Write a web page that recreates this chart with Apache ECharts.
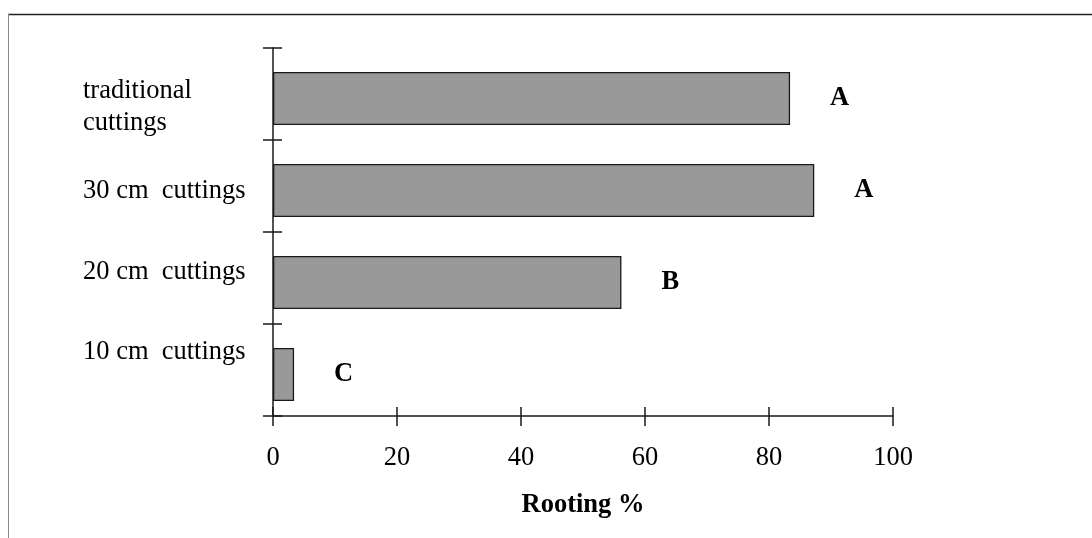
<!DOCTYPE html>
<html>
<head>
<meta charset="utf-8">
<script src="https://cdn.jsdelivr.net/npm/echarts@6/dist/echarts.min.js"></script>
<style>
html,body{margin:0;padding:0;background:#fff;}
#chart{width:1092px;height:538px;}
</style>
</head>
<body>
<div id="chart"></div>
<script>
// ---- data ----
const categories = ['traditional\ncuttings', '30 cm  cuttings', '20 cm  cuttings', '10 cm  cuttings'];
const rooting = [83.4, 87.3, 56.2, 3.4];
const letters = ['A', 'A', 'B', 'C'];
const xTicks = [0, 20, 40, 60, 80, 100];
const axisName = 'Rooting %';
// per-label vertical nudge (px, positive = down), styling only
const labelShift = [13, 5, -6, -18];

const FONT = '"Liberation Serif", "Times New Roman", serif';
const FS = 26.5;
const INK = '#1a1a1a';
const LH = 32;

const chart = echarts.init(document.getElementById('chart'), null, {renderer: 'canvas'});

const gridMain = {left: 273, right: 199, top: 48, bottom: 122, containLabel: false, outerBoundsMode: 'none'};
const gridBars = {left: 273, right: 199, top: 52.5, bottom: 117.5, containLabel: false, outerBoundsMode: 'none'};

// rich styles carrying the vertical nudge of each category label
const baseRich = {fontFamily: FONT, fontSize: FS, color: '#000', align: 'left'};
const rich = {};
labelShift.forEach((s, i) => {
  rich['s' + i] = Object.assign({}, baseRich, {
    lineHeight: LH,
    padding: s >= 0 ? [2 * s, 0, 0, 0] : [0, 0, -2 * s, 0]
  });
  rich['f' + i] = Object.assign({}, baseRich, {lineHeight: LH + 2 * s});
  rich['l' + i] = Object.assign({}, baseRich, {lineHeight: LH - 2 * s});
});

function catFormatter(value, index) {
  const lines = String(value).split('\n');
  if (lines.length === 1) return '{s' + index + '|' + lines[0] + '}';
  return '{f' + index + '|' + lines[0] + '}\n{l' + index + '|' + lines[1] + '}';
}

const tickStyle = {color: INK, width: 1.5};

const option = {
  backgroundColor: '#fff',
  animation: false,
  grid: [gridMain, gridBars],
  graphic: [
    {type: 'line', shape: {x1: 8, y1: 14.5, x2: 1092, y2: 14.5}, style: {stroke: '#222', lineWidth: 1.5}},
    {type: 'line', shape: {x1: 8.5, y1: 14, x2: 8.5, y2: 538}, style: {stroke: '#888', lineWidth: 1}}
  ],
  xAxis: [
    {
      gridIndex: 0, type: 'value', position: 'bottom',
      min: xTicks[0], max: xTicks[xTicks.length - 1], interval: xTicks[1] - xTicks[0],
      splitLine: {show: false},
      axisLine: {show: true, lineStyle: {color: INK, width: 1.5}},
      axisTick: {show: true, length: 10, lineStyle: tickStyle},
      axisLabel: {margin: 29, color: '#000', fontFamily: FONT, fontSize: FS},
      name: axisName, nameLocation: 'middle', nameGap: 76,
      nameTextStyle: {color: '#000', fontFamily: FONT, fontSize: FS, fontWeight: 'bold'}
    },
    {
      gridIndex: 0, type: 'value', position: 'bottom', offset: 0,
      min: xTicks[0], max: xTicks[xTicks.length - 1], interval: xTicks[1] - xTicks[0],
      splitLine: {show: false},
      axisLine: {show: true, onZero: false, lineStyle: {color: INK, width: 1.5, opacity: 0}},
      axisTick: {show: true, inside: true, length: 9, lineStyle: tickStyle},
      axisLabel: {show: false}
    },
    {
      gridIndex: 1, type: 'value', min: xTicks[0], max: xTicks[xTicks.length - 1],
      show: false
    }
  ],
  yAxis: [
    {
      gridIndex: 0, type: 'category', position: 'left', inverse: true, data: categories,
      axisLine: {show: true, lineStyle: {color: INK, width: 1.5}},
      axisTick: {show: true, length: 10, lineStyle: tickStyle},
      axisLabel: {
        align: 'left', margin: 190, color: '#000', fontFamily: FONT, fontSize: FS, lineHeight: LH,
        formatter: catFormatter, rich: rich
      }
    },
    {
      gridIndex: 0, type: 'category', position: 'left', offset: 0, inverse: true, data: categories,
      axisLine: {show: true, onZero: false, lineStyle: {color: INK, width: 1.5, opacity: 0}},
      axisTick: {show: true, inside: true, length: 9, lineStyle: tickStyle},
      axisLabel: {show: false}
    },
    {
      gridIndex: 1, type: 'category', inverse: true, data: categories, show: false
    }
  ],
  series: [{
    type: 'bar',
    xAxisIndex: 2, yAxisIndex: 2,
    barWidth: 53,
    data: rooting,
    itemStyle: {color: '#999999', borderColor: '#1a1a1a', borderWidth: 1.3},
    label: {
      show: true, position: 'right', distance: 40,
      formatter: p => letters[p.dataIndex],
      color: '#000', fontFamily: FONT, fontSize: FS, fontWeight: 'bold'
    }
  }]
};
chart.setOption(option);
</script>
</body>
</html>
